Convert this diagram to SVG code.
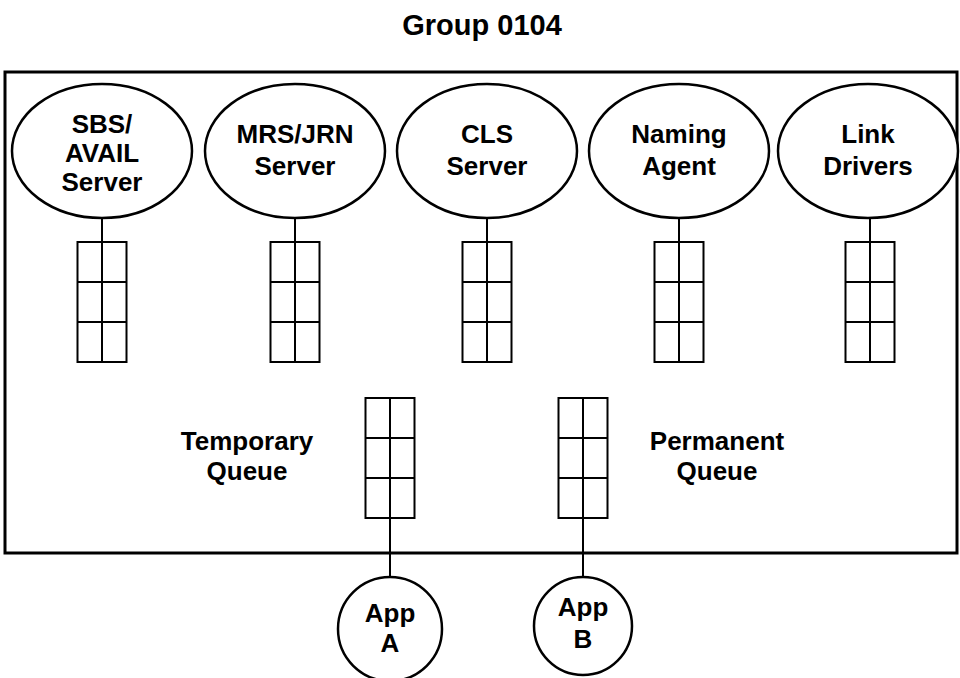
<svg xmlns="http://www.w3.org/2000/svg" width="960" height="678" viewBox="0 0 960 678">
  <style>
    .frame { fill: none; stroke: #000; stroke-width: 3; }
    .oval { fill: #fff; stroke: #000; stroke-width: 2.5; }
    .q { fill: #fff; stroke: #000; stroke-width: 2; }
    .grid { stroke: #000; stroke-width: 2; }
    .wire { stroke: #000; stroke-width: 2; fill: none; }
    text { font-family: "Liberation Sans", Arial, sans-serif; font-weight: bold; fill: #000; text-anchor: middle; }
    .lbl { font-size: 26px; }
    .title { font-size: 29px; }
  </style>
  <defs>
    <!-- 2 x 3 message queue -->
    <g id="queue">
      <rect class="q" x="-24.5" y="0" width="49" height="120"/>
      <line class="grid" x1="0" y1="0" x2="0" y2="120"/>
      <line class="grid" x1="-24.5" y1="40" x2="24.5" y2="40"/>
      <line class="grid" x1="-24.5" y1="80" x2="24.5" y2="80"/>
    </g>
  </defs>

  <rect width="960" height="678" fill="#fff"/>

  <text class="title" x="482" y="35">Group 0104</text>

  <g id="group-frame">
    <rect class="frame" x="5" y="72" width="952" height="481"/>
  </g>

  <!-- connectors -->
  <g id="connectors">
    <line class="wire" x1="102" y1="218" x2="102" y2="242"/>
    <line class="wire" x1="295" y1="218" x2="295" y2="242"/>
    <line class="wire" x1="487" y1="218" x2="487" y2="242"/>
    <line class="wire" x1="679" y1="218" x2="679" y2="242"/>
    <line class="wire" x1="870" y1="218" x2="870" y2="242"/>
    <line class="wire" x1="390" y1="518" x2="390" y2="577"/>
    <line class="wire" x1="583" y1="518" x2="583" y2="577"/>
  </g>

  <g id="sbs-avail-server">
    <ellipse class="oval" cx="102" cy="151" rx="90" ry="67"/>
    <text class="lbl" x="102" y="133">SBS/</text>
    <text class="lbl" x="102" y="162">AVAIL</text>
    <text class="lbl" x="102" y="191">Server</text>
  </g>
  <g id="mrs-jrn-server">
    <ellipse class="oval" cx="295" cy="151" rx="90" ry="67"/>
    <text class="lbl" x="295" y="143">MRS/JRN</text>
    <text class="lbl" x="295" y="175">Server</text>
  </g>
  <g id="cls-server">
    <ellipse class="oval" cx="487" cy="151" rx="90" ry="67"/>
    <text class="lbl" x="487" y="143">CLS</text>
    <text class="lbl" x="487" y="175">Server</text>
  </g>
  <g id="naming-agent">
    <ellipse class="oval" cx="679" cy="151" rx="90" ry="67"/>
    <text class="lbl" x="679" y="143">Naming</text>
    <text class="lbl" x="679" y="175">Agent</text>
  </g>
  <g id="link-drivers">
    <ellipse class="oval" cx="868" cy="151" rx="90" ry="67"/>
    <text class="lbl" x="868" y="143">Link</text>
    <text class="lbl" x="868" y="175">Drivers</text>
  </g>

  <g id="queue-sbs"><use href="#queue" x="102" y="242"/></g>
  <g id="queue-mrs"><use href="#queue" x="295" y="242"/></g>
  <g id="queue-cls"><use href="#queue" x="487" y="242"/></g>
  <g id="queue-naming"><use href="#queue" x="679" y="242"/></g>
  <g id="queue-link"><use href="#queue" x="870" y="242"/></g>

  <g id="temporary-queue">
    <use href="#queue" x="390" y="398"/>
    <text class="lbl" x="247" y="450">Temporary</text>
    <text class="lbl" x="247" y="480">Queue</text>
  </g>
  <g id="permanent-queue">
    <use href="#queue" x="583" y="398"/>
    <text class="lbl" x="717" y="450">Permanent</text>
    <text class="lbl" x="717" y="480">Queue</text>
  </g>

  <g id="app-a">
    <circle class="oval" cx="390" cy="629" r="52"/>
    <text class="lbl" x="390" y="622">App</text>
    <text class="lbl" x="390" y="652">A</text>
  </g>
  <g id="app-b">
    <circle class="oval" cx="583" cy="626" r="49"/>
    <text class="lbl" x="583" y="616">App</text>
    <text class="lbl" x="583" y="648">B</text>
  </g>
</svg>
